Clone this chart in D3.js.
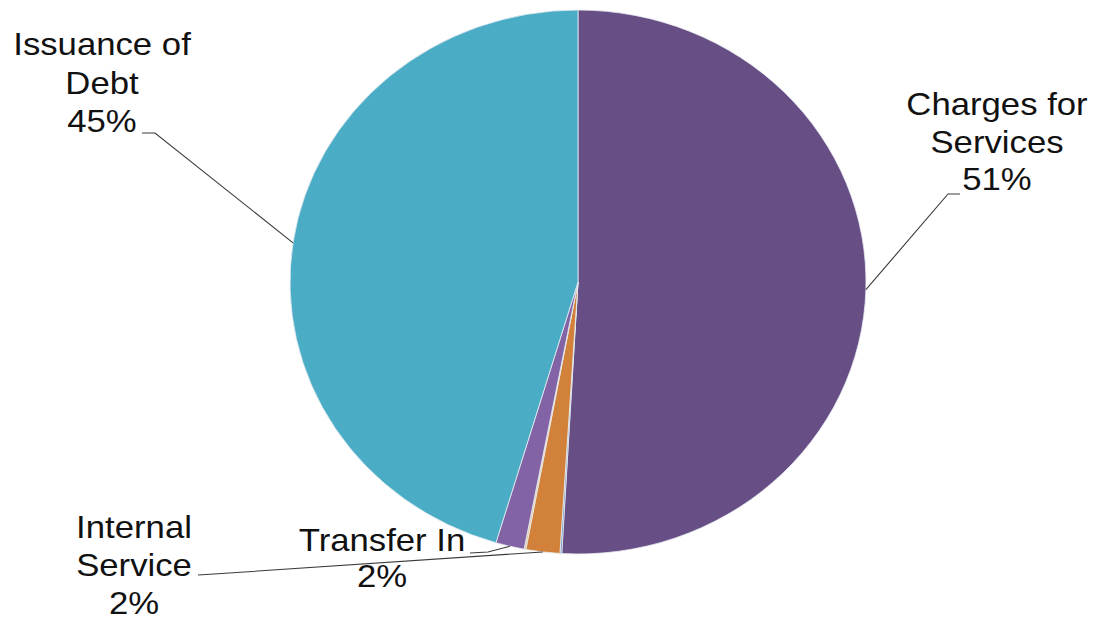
<!DOCTYPE html>
<html>
<head>
<meta charset="utf-8">
<script src="https://cdn.jsdelivr.net/npm/d3@7"></script>
<style>
  body { margin: 0; background: #fff; }
  svg text { font-family: "Liberation Sans", Arial, sans-serif; }
</style>
</head>
<body>
<div id="canvas"></div>
<script>
"use strict"

/***********************************
 DATA (clockwise from 12 o'clock)
************************************/
let categories = ["Charges for Services", "Other A", "Internal Service", "Other B", "Transfer In", "Issuance of Debt"];
let values = [50.9, 0.1, 1.9, 0.1, 1.6, 45.4];
let labelled = [true, false, true, false, true, true];
let colors = ["#674f86", "#5f8ec4", "#d2813a", "#e3c08c", "#8263a6", "#4bacc6"];

/***********************************
 CONFIGURATION
************************************/
let svgWidth = 1099;
let svgHeight = 618;
let cx = 578, cy = 282;
let rx = 288, ry = 272; // the picture is a little wider than tall
let fontSize = 31;
let textStretch = 1.12; // labels are drawn a bit wide, like the pie

// label text block (center x, first baseline, line gap) and leader elbow points
let labelLayout = {
    "Charges for Services": { x: 997, y: 115, gap: 37.5, lines: ["Charges for", "Services"], elbow: [[960, 194], [948, 194]] },
    "Issuance of Debt":     { x: 102, y: 55,  gap: 38.5, lines: ["Issuance of", "Debt"],     elbow: [[142, 133], [155, 133]] },
    "Internal Service":     { x: 134, y: 538, gap: 38,   lines: ["Internal", "Service"],     elbow: [[198, 575], [214, 574]] },
    "Transfer In":          { x: 382, y: 551, gap: 36,   lines: ["Transfer In"],             elbow: [[470, 553], [488, 552]] }
};

/***********************************
 SVG
************************************/
let svg = d3.select("#canvas")
    .append("svg")
    .attr("width", svgWidth)
    .attr("height", svgHeight);

let total = d3.sum(values);
let dataset = categories.map((c, i) => ({ name: c, value: values[i], color: colors[i], labelled: labelled[i] }));

let pie = d3.pie()
    .sort(null)
    .value(d => d.value);

let arcs = pie(dataset);

let arc = d3.arc()
    .innerRadius(0)
    .outerRadius(ry);

/***********************************
 SLICES
************************************/
let pieG = svg.append("g")
    .attr("transform", `translate(${cx}, ${cy}) scale(${rx / ry}, 1)`);

pieG.selectAll("path")
    .data(arcs)
    .join("path")
    .attr("d", arc)
    .attr("fill", d => d.data.color)
    .attr("stroke", "#e8eef2")
    .attr("stroke-width", 0.8)
    .attr("vector-effect", "non-scaling-stroke");

/***********************************
 LEADER LINES + LABELS
************************************/
function edgePoint(d) {
    let a = (d.startAngle + d.endAngle) / 2;
    return [cx + rx * Math.sin(a), cy - ry * Math.cos(a)];
}

arcs.filter(d => d.data.labelled).forEach(d => {
    let lay = labelLayout[d.data.name];
    let pts = lay.elbow.concat([edgePoint(d)]);

    svg.append("path")
        .attr("d", d3.line()(pts))
        .attr("fill", "none")
        .attr("stroke", "#3a3a3a")
        .attr("stroke-width", 1.1);

    let pct = Math.round(d.data.value / total * 100) + "%";
    let lines = lay.lines.concat([pct]);

    svg.append("g").selectAll("text")
        .data(lines)
        .join("text")
        .attr("transform", (t, i) => `translate(${lay.x}, ${lay.y + i * lay.gap}) scale(${textStretch}, 1)`)
        .attr("text-anchor", "middle")
        .attr("font-size", fontSize)
        .attr("fill", "#111")
        .text(t => t);
});
</script>
</body>
</html>
